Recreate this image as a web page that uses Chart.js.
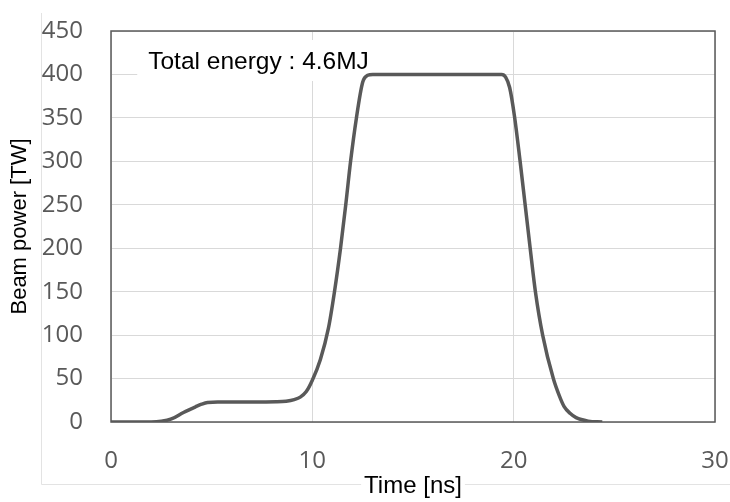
<!DOCTYPE html>
<html>
<head>
<meta charset="utf-8">
<script src="https://cdn.jsdelivr.net/npm/chart.js@4"></script>
<style>
  html, body { margin: 0; padding: 0; background: #ffffff; }
  #wrap { width: 730px; height: 502px; }
</style>
</head>
<body>
<div id="wrap"><canvas id="myChart" width="730" height="502"></canvas></div>
<script>
// beam power pulse
var timeNs = [0, 2, 2.5, 3, 3.6, 4.2, 4.5, 4.8, 5.3, 7, 8.2, 8.7, 9.1, 9.4, 9.7, 10, 10.4, 10.8,
    11.1, 11.4, 11.66, 11.9, 12.19, 12.5, 12.75, 13, 19.4, 19.6, 19.8, 20.04, 20.32, 20.57,
    20.82, 21.08, 21.44, 21.97, 22.27, 22.5, 22.8, 23.1, 23.7, 24.4];
var powerTW = [0, 0, 0.8, 3.5, 11, 17.5, 20.5, 22.5, 23, 23, 23.3, 24, 25.8, 28.6, 35, 48, 72, 108,
    150, 200, 250, 300, 350, 391, 399, 400, 400, 397, 385, 352, 300, 250,
    200, 150, 100, 50, 30, 18, 10, 5, 1, 0];

var xTicks = [0, 10, 20, 30];
var yMax = 450;
var yStep = 50;
var xLabel = 'Time [ns]';
var yLabel = 'Beam power [TW]';
var noteText = 'Total energy : 4.6MJ';

var gray = '#595959';
var gridGray = '#d9d9d9';

var points = [];
for (var i = 0; i < timeNs.length; i++) {
    points.push({x: timeNs[i], y: powerTW[i]});
}

// light outer frame and a white patch under the x title
var framePlugin = {
    id: 'frame',
    beforeDraw: function(chart) {
        var ctx = chart.ctx;
        ctx.save();
        ctx.strokeStyle = '#e3e3e3';
        ctx.lineWidth = 1;
        ctx.beginPath();
        ctx.moveTo(41.5, 13);
        ctx.lineTo(41.5, 484.5);
        ctx.lineTo(730, 484.5);
        ctx.stroke();
        var xs = chart.scales.x;
        ctx.font = '24px "Liberation Sans", Arial, sans-serif';
        var w = ctx.measureText(xLabel).width;
        var cx = (xs.left + xs.right) / 2;
        ctx.fillStyle = '#ffffff';
        ctx.fillRect(cx - w / 2 - 3, 476, w + 6, 16);
        ctx.restore();
    },
    beforeDatasetsDraw: function(chart) {
        var ctx = chart.ctx;
        var xs = chart.scales.x, ys = chart.scales.y;
        var a = chart.chartArea;
        ctx.save();
        // box around the plot
        ctx.strokeStyle = gray;
        ctx.lineWidth = 1.5;
        ctx.strokeRect(a.left, a.top, a.right - a.left, a.bottom - a.top);
        // note with white background
        var tx = xs.getPixelForValue(1.85);
        var ty = ys.getPixelForValue(406);
        ctx.font = '24.5px "Liberation Sans", Arial, sans-serif';
        var w = ctx.measureText(noteText).width;
        ctx.fillStyle = '#ffffff';
        ctx.fillRect(tx - 11, a.top + 9, w + 14, 41);
        ctx.fillStyle = '#000000';
        ctx.textBaseline = 'alphabetic';
        ctx.fillText(noteText, tx, ty);
        ctx.restore();
    }
};

var ctx = document.getElementById('myChart').getContext('2d');
var chart = new Chart(ctx, {
    type: 'line',
    data: {
        datasets: [{
            data: points,
            borderColor: gray,
            borderWidth: 3.5,
            pointRadius: 0,
            fill: false,
            cubicInterpolationMode: 'monotone'
        }]
    },
    options: {
        responsive: false,
        animation: false,
        layout: { padding: { top: 31, right: 15, left: 0, bottom: 0 } },
        plugins: { legend: { display: false }, tooltip: { enabled: false } },
        scales: {
            x: {
                type: 'linear',
                min: xTicks[0],
                max: xTicks[xTicks.length - 1],
                afterBuildTicks: function(s) { s.ticks = xTicks.map(function(v) { return {value: v}; }); },
                afterFit: function(s) { s.height = 80; s.paddingLeft = 0; s.paddingRight = 0; },
                grid: { color: gridGray, lineWidth: 1, drawTicks: false },
                border: { display: false },
                ticks: {
                    color: gray,
                    padding: 25,
                    font: { family: '"Open Sans", sans-serif', size: 24 }
                },
                title: {
                    display: true,
                    text: xLabel,
                    color: '#000000',
                    padding: { top: 0, bottom: 1 },
                    font: { family: '"Liberation Sans", Arial, sans-serif', size: 24 }
                }
            },
            y: {
                min: 0,
                max: yMax,
                afterFit: function(s) { s.width = 111; s.paddingTop = 0; s.paddingBottom = 0; },
                grid: { color: gridGray, lineWidth: 1, drawTicks: false },
                border: { display: false },
                ticks: {
                    stepSize: yStep,
                    color: gray,
                    padding: 28,
                    font: { family: '"Open Sans", sans-serif', size: 24 }
                },
                title: {
                    display: true,
                    text: yLabel,
                    color: '#000000',
                    padding: { top: 7, bottom: 0 },
                    font: { family: '"Liberation Sans", Arial, sans-serif', size: 22 }
                }
            }
        }
    },
    plugins: [framePlugin]
});
</script>
</body>
</html>
